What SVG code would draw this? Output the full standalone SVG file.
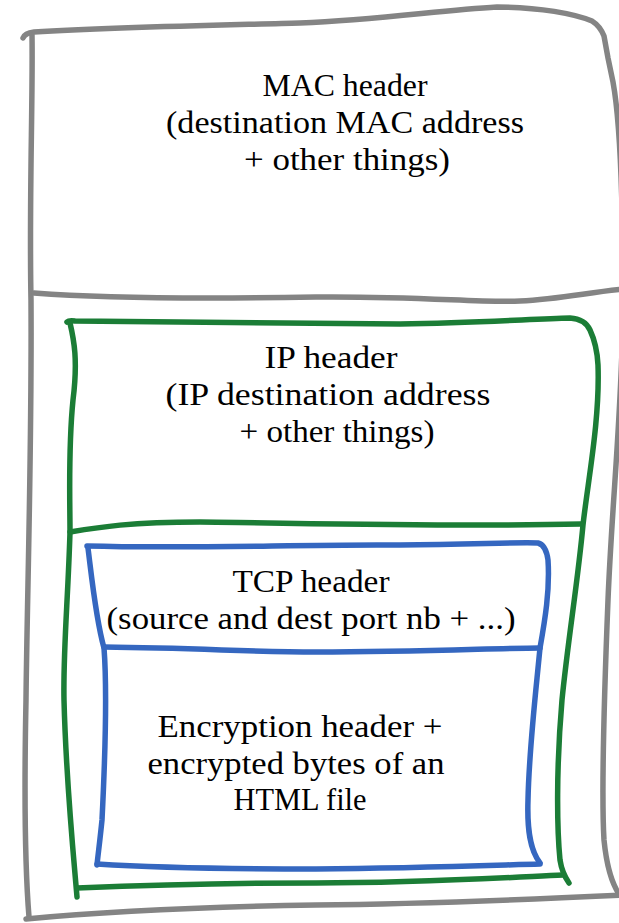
<svg xmlns="http://www.w3.org/2000/svg" width="619" height="923" viewBox="0 0 619 923">
<style>
.s{fill:none;stroke-width:5.5;stroke-linecap:round;stroke-linejoin:round}
.g{stroke:#848484}
.gr{stroke:#1b7d36}
.b{stroke:#3567c0}
text{font-family:"Liberation Serif","Times New Roman",serif;font-size:31px;fill:#000;text-anchor:middle}
</style>
<rect width="619" height="923" fill="#fff"/>
<g id="mac">
<path class="s g" d="M23 38 Q25 33 34 32 C120 27 230 25 300 23 C380 20 440 10 497 7 C540 7 575 14 592 21 Q600 26 604 36 L608 58 L613 82 C620 120 623 200 623 300 C623 400 612 500 608 600 C604 700 601 790 604 840 C607 870 613 885 619 894"/>
<path class="s g" d="M32 35 C33 100 29 200 31 300 C32 450 27 600 26 700 C24 800 26 880 29 917"/>
<path class="s g" d="M626 895 C520 900 420 904 316 905 C200 907 100 912 26 919"/>
<path class="s g" d="M34 293 C100 298 200 299 316 297 C420 296 480 303 520 301 C560 299 590 292 624 289"/>
<text x="345" y="96" textLength="165" lengthAdjust="spacingAndGlyphs">MAC header</text>
<text x="345" y="133" textLength="358" lengthAdjust="spacingAndGlyphs">(destination MAC address</text>
<text x="347" y="170" textLength="206" lengthAdjust="spacingAndGlyphs">+ other things)</text>
</g>
<g id="ip">
<path class="s gr" d="M67 322 Q69 320 75 321 C200 323 300 324 400 324 C480 323 530 319 570 318 Q585 319 590 330 Q597 345 598 365 C600 420 588 480 583 525 C578 580 568 640 562 700 C556 770 557 830 560 860 Q562 873 569 883"/>
<path class="s gr" d="M70 323 C74 340 78 360 73 400 C68 450 70 500 70 532 C68 600 63 650 64 700 C66 780 73 850 77 897"/>
<path class="s gr" d="M77 888 C150 885 250 883 316 883 C420 883 500 878 563 875"/>
<path class="s gr" d="M70 532 C100 527 130 522 200 522 C300 523 450 527 581 524"/>
<text x="331" y="368" textLength="133" lengthAdjust="spacingAndGlyphs">IP header</text>
<text x="328" y="405" textLength="325" lengthAdjust="spacingAndGlyphs">(IP destination address</text>
<text x="337" y="442" textLength="195" lengthAdjust="spacingAndGlyphs">+ other things)</text>
</g>
<g id="tcp">
<path class="s b" d="M87 546 C200 549 300 544 400 545 C470 545 510 542 538 543 Q546 545 548 560 C550 590 545 620 540 648 C535 700 529 750 528 800 C527 830 530 850 540 863"/>
<path class="s b" d="M88 548 C92 580 96 620 104 648 C108 700 104 780 102 820 C100 840 98 855 97 865"/>
<path class="s b" d="M97 864 C160 868 250 869 316 869 C420 868 500 865 540 864"/>
<path class="s b" d="M104 647 C200 648 250 652 316 652 C420 652 500 648 540 648"/>
<text x="311" y="592" textLength="157" lengthAdjust="spacingAndGlyphs">TCP header</text>
<text x="311" y="629" textLength="409" lengthAdjust="spacingAndGlyphs">(source and dest port nb + ...)</text>
</g>
<g id="payload">
<text x="300" y="737" textLength="285" lengthAdjust="spacingAndGlyphs">Encryption header +</text>
<text x="296" y="774" textLength="297" lengthAdjust="spacingAndGlyphs">encrypted bytes of an</text>
<text x="300" y="810" textLength="133" lengthAdjust="spacingAndGlyphs">HTML file</text>
</g>
<g id="connectors"></g>
</svg>
